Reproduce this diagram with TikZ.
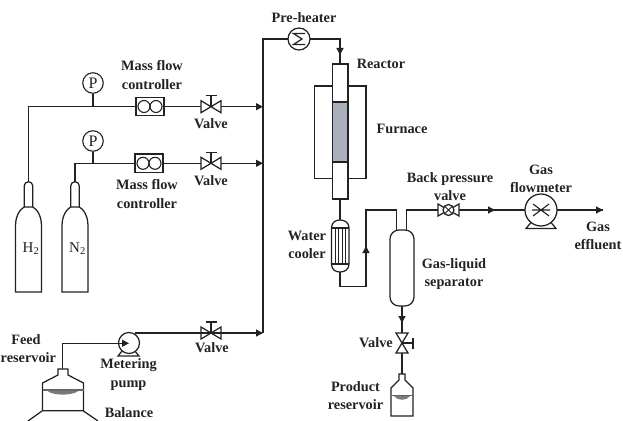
\documentclass[tikz,border=0pt]{standalone}
\usepackage{fontspec}
\setmainfont{Liberation Serif}
\usetikzlibrary{arrows.meta,calc}
\definecolor{ink}{HTML}{222222}
\definecolor{catalyst}{HTML}{A9AFBB}
\tikzset{
  pipe/.style={draw=ink,line width=1.25pt},
  flow/.style={pipe,-{Triangle[length=7pt,width=7pt]}},
  lbl/.style={font=\fontsize{14.3}{18.2}\selectfont\bfseries,text=ink,inner sep=0pt,align=center},
  gas/.style={font=\fontsize{15}{15}\selectfont,text=ink,inner sep=0pt},
  gauge/.style={circle,draw=ink,line width=1.1pt,fill=white,minimum size=20.5pt,inner sep=0pt,font=\fontsize{16}{16}\selectfont,text=ink},
  round/.style={circle,draw=ink,line width=1.25pt,fill=white,inner sep=0pt},
  mfcbox/.style={rectangle,draw=ink,line width=1.25pt,fill=white,minimum width=28pt,minimum height=18.5pt,inner sep=0pt},
  vesselb/.style={draw=ink,line width=1.25pt,fill=white},
  valvebody/.pic={
    \draw[vesselb] (-10,-6) -- (10,6) -- (10,-6) -- (-10,6) -- cycle;
    \draw[pipe] (0,0) -- (0,-11) (-5.5,-11) -- (5.5,-11);
  }
}
\begin{document}
\begin{tikzpicture}[x=1pt,y=-1pt]
\useasboundingbox (0,0) rectangle (623,420);
% junction coordinates
\coordinate (h2top) at (28.5,182);
\coordinate (h2c) at (28.5,106.7);
\coordinate (g1j) at (93,106.7);
\coordinate (m1) at (263,106.7);
\coordinate (n2top) at (75,182);
\coordinate (n2c) at (75,163.3);
\coordinate (g2j) at (93,163.3);
\coordinate (m2) at (263,163.3);
\coordinate (m3) at (263,333);
\coordinate (m4) at (263,39);
\coordinate (rin) at (340,39);
\coordinate (rtop) at (340,64);
\coordinate (rbot) at (340,199);
\coordinate (ctop) at (340,220);
\coordinate (cbot) at (340,272);
\coordinate (c1) at (340,286.7);
\coordinate (c2) at (366,286.7);
\coordinate (c3) at (366,210);
\coordinate (c4) at (396.7,210);
\coordinate (s1) at (396.7,230);
\coordinate (s2) at (406.7,230);
\coordinate (s3) at (406.7,210);
\coordinate (gout) at (603,210);
\coordinate (sb) at (402,306);
\coordinate (pt) at (402,374);
\coordinate (f1) at (62.7,369);
\coordinate (f2) at (62.7,343.3);
% main pipes
\draw[pipe] (m3) -- (m4) -- (rin) -- (rtop);
\draw[flow] (rin) -- (340,55);
\draw[flow] (h2top) -- (h2c) -- (m1);
\draw[flow] (n2top) -- (n2c) -- (m2);
\draw[pipe] (rbot) -- (ctop);
\draw[pipe] (cbot) -- (c1) -- (c2) -- (c3) -- (c4) -- (s1);
\draw[flow] (c2) -- (366,246);
\draw[pipe] (s2) -- (s3) -- (gout);
\draw[flow] (s3) -- (495,210);
\draw[flow] (s3) -- (gout);
\draw[pipe] (sb) -- (pt);
\draw[flow] (sb) -- (402,323);
% gauges
\node[gauge] (p1) at (93,83) {P};
\node[gauge] (p2) at (93,141) {P};
\draw[pipe] (p1) -- (g1j);
\draw[pipe] (p2) -- (g2j);
% mass flow controllers
\node[mfcbox] (mfc1) at (150,106.5) {};
\node[mfcbox] (mfc2) at (149,163.3) {};
\foreach \m in {mfc1,mfc2}{
  \draw[draw=ink,line width=1.1pt] ($(\m)+(-6,0)$) circle[radius=6];
  \draw[draw=ink,line width=1.1pt] ($(\m)+(6,0)$) circle[radius=6];
}
% valves
\pic at (211,106.7) {valvebody};
\pic at (211,163.3) {valvebody};
\pic at (211,333) {valvebody};
\pic at (402,343) [rotate=-90] {valvebody};
% cylinders
\foreach \x in {28.5,75}{
  \draw[vesselb] (\x-4.3,207) -- (\x-4.3,186) arc[start angle=180,end angle=0,radius=4.3,y radius=-4.3] -- (\x+4.3,207);
  \draw[vesselb] (\x-13,292) -- (\x-13,226) .. controls (\x-13,215) and (\x-8,209) .. (\x-4.3,207) -- (\x+4.3,207) .. controls (\x+8,209) and (\x+13,215) .. (\x+13,226) -- (\x+13,292) -- cycle;
}
\node[gas] (h2) at (31,249) {H\textsubscript{2}};
\node[gas] (n2) at (77.5,249) {N\textsubscript{2}};
% pre-heater
\node[round,minimum size=22pt] (ph) at (299,39) {};
\draw[pipe] (305,33.5) -- (293.5,33.5) -- (302,39) -- (293.5,44.5) -- (305,44.5);
% furnace and reactor
\draw[vesselb] (314.3,86) rectangle (366,178.5);
\draw[vesselb] (332.3,64) rectangle (348,199);
\draw[draw=ink,line width=1.25pt,fill=catalyst] (332.3,102) rectangle (348,162);
% water cooler
\draw[vesselb] (331.5,228) .. controls (331.5,222) and (336,220) .. (340,220) .. controls (344,220) and (349,222) .. (349,228) -- (349,264) .. controls (349,270) and (344,272) .. (340,272) .. controls (336,272) and (331.5,270) .. (331.5,264) -- cycle;
\draw[pipe] (331.5,228) -- (349,228) (331.5,264) -- (349,264);
\foreach \x in {335.2,338.7,342.2,345.7}{\draw[draw=ink,line width=.9pt] (\x,228) -- (\x,264);}
% separator
\draw[vesselb,rounded corners=9pt] (390,230) rectangle (414,306);
% back pressure valve
\draw[vesselb] (438,204) -- (459,216) -- (459,204) -- (438,216) -- cycle;
\node[round,minimum size=11pt] (bpv) at (448.5,210) {};
\draw[draw=ink,line width=1pt] (445,206.5) -- (452,213.5) (445,213.5) -- (452,206.5);
% flowmeter
\draw[vesselb] (526,228.5) -- (556,228.5) -- (549,220) -- (533,220) -- cycle;
\node[round,minimum size=32pt] (fm) at (541,210) {};
\draw[draw=ink,line width=1.1pt] (533,204) -- (549,216) (533,216) -- (549,204) (532,210) -- (550,210);
% pump
\draw[vesselb] (118,356) -- (139,356) -- (134,350) -- (123,350) -- cycle;
\node[round,minimum size=21pt] (pump) at (129,343) {};
\draw[flow] (135,333) -- (m3);
\draw[pipe] (f1) -- (f2);
\draw[flow] (f2) -- (129,343.3);
% feed reservoir
\draw[vesselb] (42.5,410.7) -- (42.5,383) -- (58,375) -- (58,369) -- (68,369) -- (68,375) -- (83.5,383) -- (83.5,410.7) -- cycle;
\draw[pipe,draw=ink!70] (42.5,390) -- (83.5,390);
\fill[ink!60] (47,390.5) .. controls (52,396) and (73,396) .. (79,390.5) -- cycle;
\draw[pipe] (42,411) -- (28,421) (83.5,411) -- (98,421);
% product reservoir
\draw[vesselb] (391,416) -- (391,388) -- (399,380) -- (399,374) -- (405,374) -- (405,380) -- (413,388) -- (413,416) -- cycle;
\draw[pipe,draw=ink!70] (391,395.7) -- (413,395.7);
\fill[ink!60] (394,396) .. controls (397,401) and (407,401) .. (410,396) -- cycle;
% labels
\node[lbl] (t1) at (152,75) {Mass flow\\controller};
\node[lbl] (t2) at (147,194) {Mass flow\\controller};
\node[lbl] (v1) at (211,124) {Valve};
\node[lbl] (v2) at (211,181) {Valve};
\node[lbl] (v3) at (212,348) {Valve};
\node[lbl] (v4) at (376,343) {Valve};
\node[lbl] (feed) at (26,340) {Feed};
\node[lbl,anchor=west] (fr) at (0.5,358) {reservoir};
\node[lbl] (met) at (128.5,374.5) {Metering\\pump};
\node[lbl] (bal) at (129,412.5) {Balance};
\node[lbl] (pre) at (304,18) {Pre-heater};
\node[lbl] (rea) at (381,64) {Reactor};
\node[lbl] (fur) at (402,129) {Furnace};
\node[lbl] (bp) at (450,187) {Back pressure\\valve};
\node[lbl] (gf) at (541,179) {Gas\\flowmeter};
\node[lbl] (ge) at (598,235.5) {Gas\\effluent};
\node[lbl] (gl) at (454,274) {Gas-liquid\\separator};
\node[lbl] (wc) at (307,245) {Water\\cooler};
\node[lbl] (pr) at (355.5,396) {Product\\reservoir};
\end{tikzpicture}
\end{document}
